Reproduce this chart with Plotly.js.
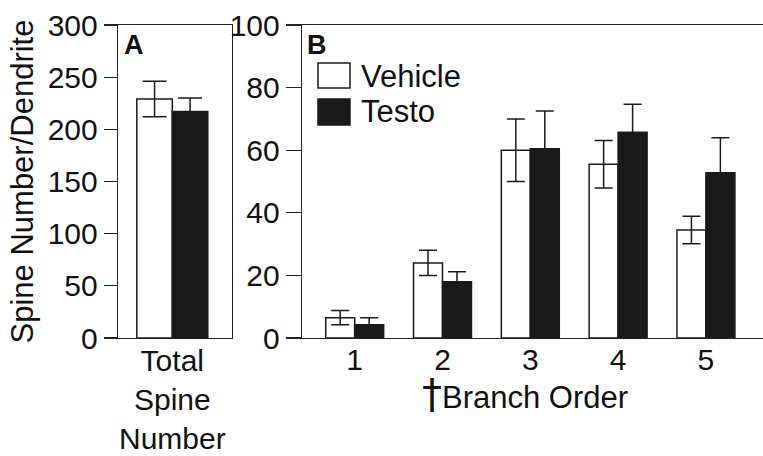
<!DOCTYPE html>
<html>
<head>
<meta charset="utf-8">
<script src="https://cdn.plot.ly/plotly-3.0.1.min.js"></script>
<style>html,body{margin:0;padding:0;background:#fff;}#chart{width:763px;height:456px;}</style>
</head>
<body>
<div id="chart"></div>
<script>
// Panel A: total spine number
const totalCategory = ['Total<br>Spine<br>Number'];
const vehicleTotal = [229];
const vehicleTotalErr = [17];
const testoTotal = [217];
const testoTotalErr = [13];

// Panel B: spines by branch order
const branchOrders = ['1', '2', '3', '4', '5'];
const vehicleBranch = [6.5, 24, 60, 55.5, 34.5];
const vehicleBranchErr = [2.3, 4, 10, 7.6, 4.4];
const testoBranch = [4.2, 18, 60.5, 65.7, 52.8];
const testoBranchErr = [2.3, 3.2, 12, 9, 11.2];

const seriesNames = ['Vehicle', 'Testo'];
const yTicksA = [0, 50, 100, 150, 200, 250, 300];
const yTicksB = [0, 20, 40, 60, 80, 100];

const FONT = 'Liberation Sans, Arial, Helvetica, sans-serif';
const INK = '#1a1a1a';
const LINE = '#222';

function barTrace(x, y, err, name, fill, xa, ya, capw) {
  return {
    type: 'bar', x: x, y: y, name: name, xaxis: xa, yaxis: ya,
    marker: {color: fill, line: {color: INK, width: 1.5}},
    error_y: {type: 'data', array: err, visible: true, color: INK, thickness: 1.5, width: capw},
    hoverinfo: 'skip', showlegend: false
  };
}

const traces = [
  barTrace(totalCategory, vehicleTotal, vehicleTotalErr, seriesNames[0], '#ffffff', 'x', 'y', 12),
  barTrace(totalCategory, testoTotal, testoTotalErr, seriesNames[1], INK, 'x', 'y', 12),
  barTrace(branchOrders, vehicleBranch, vehicleBranchErr, seriesNames[0], '#ffffff', 'x2', 'y2', 9),
  barTrace(branchOrders, testoBranch, testoBranchErr, seriesNames[1], INK, 'x2', 'y2', 9)
];

// pixel helpers for annotations / legend (paper coords)
const W = 763, H = 456, ML = 118, MR = 0, MT = 25, MB = 118;
const px = v => (v - ML) / (W - ML - MR);
const py = v => (H - MB - v) / (H - MT - MB);

const axisCommon = {
  showline: true, linecolor: LINE, linewidth: 1.3, showgrid: false, zeroline: false,
  tickfont: {family: FONT, size: 30, color: '#111'}, fixedrange: true
};

const layout = {
  width: W, height: H,
  margin: {l: ML, r: MR, t: MT, b: MB},
  paper_bgcolor: '#ffffff', plot_bgcolor: 'rgba(0,0,0,0)',
  font: {family: FONT, color: '#111'},
  barmode: 'group', bargap: 0.34, bargroupgap: 0,
  showlegend: false,
  xaxis: Object.assign({}, axisCommon, {
    domain: [0, px(232)], anchor: 'y', type: 'category', range: [-0.505, 0.555],
    mirror: true, ticks: '', automargin: false, ticklabelstandoff: -4
  }),
  yaxis: Object.assign({}, axisCommon, {
    domain: [0, 1], anchor: 'x', range: [0, 300], tickvals: yTicksA,
    ticks: 'outside', ticklen: 13, tickwidth: 1.3, tickcolor: LINE, mirror: true,
    automargin: false,
    title: {text: 'Spine Number/Dendrite', font: {family: FONT, size: 31, color: '#111'}, standoff: 4}
  }),
  xaxis2: Object.assign({}, axisCommon, {
    domain: [px(302), 1], anchor: 'y2', type: 'category', range: [-0.6, 4.65],
    mirror: true, ticks: '', automargin: false, ticklabelstandoff: -5
  }),
  yaxis2: Object.assign({}, axisCommon, {
    domain: [0, 1], anchor: 'x2', range: [0, 100], tickvals: yTicksB,
    ticks: 'outside', ticklen: 15, tickwidth: 1.3, tickcolor: LINE, mirror: false,
    automargin: false
  }),
  shapes: [
    {type: 'rect', xref: 'paper', yref: 'paper', x0: px(318), x1: px(350), y0: py(88), y1: py(63),
     fillcolor: '#ffffff', line: {color: INK, width: 1.5}},
    {type: 'rect', xref: 'paper', yref: 'paper', x0: px(318), x1: px(350), y0: py(125), y1: py(99),
     fillcolor: INK, line: {color: INK, width: 1.5}}
  ],
  annotations: [
    {text: '<b>A</b>', xref: 'paper', yref: 'paper', x: px(122), y: py(45), xanchor: 'left', yanchor: 'middle',
     showarrow: false, font: {family: FONT, size: 27, color: '#111'}},
    {text: '<b>B</b>', xref: 'paper', yref: 'paper', x: px(305), y: py(45), xanchor: 'left', yanchor: 'middle',
     showarrow: false, font: {family: FONT, size: 27, color: '#111'}},
    {text: seriesNames[0], xref: 'paper', yref: 'paper', x: px(359), y: py(76), xanchor: 'left', yanchor: 'middle',
     showarrow: false, font: {family: FONT, size: 31, color: '#111'}},
    {text: seriesNames[1], xref: 'paper', yref: 'paper', x: px(359), y: py(112), xanchor: 'left', yanchor: 'middle',
     showarrow: false, font: {family: FONT, size: 31, color: '#111'}},
    {text: '<span style="font-family:DejaVu Sans;font-size:40px">†</span>Branch Order', xref: 'paper', yref: 'paper',
     x: px(525), y: py(394), xanchor: 'center', yanchor: 'middle',
     showarrow: false, font: {family: FONT, size: 31, color: '#111'}}
  ]
};

Plotly.newPlot('chart', traces, layout, {staticPlot: true, displayModeBar: false});
</script>
</body>
</html>
